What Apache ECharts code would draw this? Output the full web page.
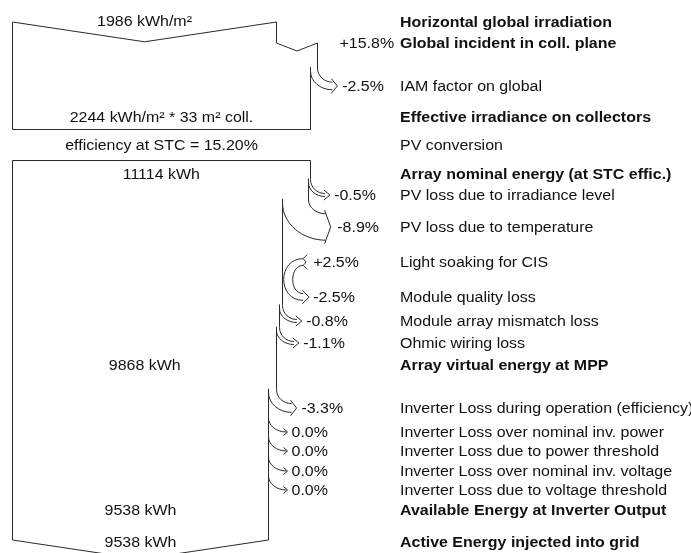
<!DOCTYPE html>
<html>
<head>
<meta charset="utf-8">
<script src="https://cdn.jsdelivr.net/npm/echarts@6/dist/echarts.min.js"></script>
<style>
html,body{margin:0;padding:0;background:#fff}
#main{width:691px;height:553px}
</style>
</head>
<body>
<div id="main"></div>
<script>
// ---- values ----
const horizGlobal = 1986;            // kWh/m2
const effIrradiance = 2244;          // kWh/m2
const collArea = 33;                 // m2
const stcEfficiency = 15.20;         // %
const irrChanges = [15.8, -2.5];     // incident gain, IAM factor
const arrayLosses = [-0.5, -8.9, 2.5, -2.5, -0.8, -1.1];
const inverterLosses = [-3.3, 0.0, 0.0, 0.0, 0.0];
const nominalEnergy = 11114;         // kWh
const virtualEnergy = 9868;
const inverterOutEnergy = 9538;
const gridEnergy = 9538;

const stepLabels = [
    'Horizontal global irradiation',
    'Global incident in coll. plane',
    'IAM factor on global',
    'Effective irradiance on collectors',
    'PV conversion',
    'Array nominal energy (at STC effic.)',
    'PV loss due to irradiance level',
    'PV loss due to temperature',
    'Light soaking for CIS',
    'Module quality loss',
    'Module array mismatch loss',
    'Ohmic wiring loss',
    'Array virtual energy at MPP',
    'Inverter Loss during operation (efficiency)',
    'Inverter Loss over nominal inv. power',
    'Inverter Loss due to power threshold',
    'Inverter Loss over nominal inv. voltage',
    'Inverter Loss due to voltage threshold',
    'Available Energy at Inverter Output',
    'Active Energy injected into grid'
];
const boldSteps = [0, 1, 3, 5, 12, 18, 19];

// ---- layout: vertical position of every row ----
const rowY = [22, 43, 86, 117, 145, 174, 195, 227, 262, 297, 321, 343, 365, 408, 432, 451, 471, 490, 510, 542];
const chainRows = [6, 7, 8, 9, 10, 11, 13, 14, 15, 16, 17];
const box1Bottom = 129, box2Top = 160, box2Bottom = 540;
const labelX = 400;

const LINE = '#2a2a2a';
const TXT = '#111';
const FONT = '"Liberation Sans", Arial, sans-serif';
const TXT_STRETCH = 1.14;   // the printed font runs wide

function fmt(p) {
    return (p > 0 ? '+' : '') + p.toFixed(1) + '%';
}
function crisp(x) { return Math.round(x - 0.5) + 0.5; }
function pline(points) {
    return {type: 'polyline', shape: {points: points}, style: {stroke: LINE, fill: 'none', lineWidth: 1}};
}
function bez(x1, y1, x2, y2, cx1, cy1, cx2, cy2) {
    return {type: 'bezierCurve',
        shape: {x1: x1, y1: y1, x2: x2, y2: y2, cpx1: cx1, cpy1: cy1, cpx2: cx2, cpy2: cy2},
        style: {stroke: LINE, fill: 'none', lineWidth: 1}};
}
// vertical start bending into a horizontal end
function bend(x1, y1, x2, y2) {
    return bez(x1, y1, x2, y2, x1, y1 + 0.55 * (y2 - y1), x2 - 0.55 * (x2 - x1), y2);
}
function txt(text, x, y, align, bold) {
    return {type: 'text', x: x, y: y + 1, scaleX: TXT_STRETCH,
        style: {text: text, x: 0, y: 0, align: align, verticalAlign: 'middle',
        font: (bold ? 'bold ' : '') + '14px ' + FONT, fill: TXT}};
}

function lossGeom(api, before, after, row) {
    const xr = api.coord([before, 0])[0];
    const xn = api.coord([after, 0])[0];
    const w = xr - xn;
    const h = w < 0.5 ? 0 : Math.max(w, 3);
    const yc = api.coord([0, row])[1];
    return {xr: xr, xn: xn, h: h, yc: yc, y0: yc - h / 2 - 14};
}
function lossArrow(g, label) {
    const tip = g.xr + 19 + g.h * 0.12, xe = tip - 5;
    const out = [];
    if (g.h === 0) {
        out.push(bend(g.xr, g.y0, tip - 1, g.yc));
        out.push(pline([[tip - 4, g.yc - 3.5], [tip, g.yc], [tip - 4, g.yc + 3.5]]));
    } else {
        out.push(bend(g.xr, g.y0, xe, g.yc - g.h / 2));
        out.push(bend(g.xn, g.y0 + 3, xe, g.yc + g.h / 2));
        out.push(pline([[xe - 1, g.yc - g.h / 2 - 3.5], [tip, g.yc], [xe - 1, g.yc + g.h / 2 + 3.5]]));
    }
    out.push(txt(label, tip + 4 + g.h * 0.1, g.yc, 'left', false));
    return out;
}

// flow widths are in % of the horizontal global irradiation
const wIncident = 100 * (1 + irrChanges[0] / 100);
const wEffective = wIncident * (1 + irrChanges[1] / 100);

function renderIrradiance(params, api) {
    const ch = [];
    const x0 = crisp(api.coord([0, 0])[0]);
    const xH = crisp(api.coord([100, 0])[0]);
    const xI = crisp(api.coord([wIncident, 0])[0]);
    const xE = crisp(api.coord([wEffective, 0])[0]);
    const yTop = api.coord([0, rowY[0]])[1];
    const yStep = api.coord([0, rowY[1]])[1];
    const yBot = crisp(api.coord([0, box1Bottom])[1]);
    ch.push(pline([[x0, yBot], [x0, yTop], [(x0 + xH) / 2, yTop + 0.15 * (xH - x0) / 2], [xH, yTop],
        [xH, yStep], [(xH + xI) / 2, yStep + 8], [xI, yStep]]));
    ch.push(pline([[x0, yBot], [xE, yBot]]));
    const g = lossGeom(api, wIncident, wEffective, rowY[2]);
    g.xr = xI; g.xn = xE;
    ch.push(pline([[xI, yStep], [xI, g.y0]]));
    ch.push(...lossArrow(g, fmt(irrChanges[1])));
    ch.push(pline([[xE, g.y0 - 1], [xE, yBot]]));
    ch.push(txt(fmt(irrChanges[0]), xI + 22, yStep, 'left', false));
    ch.push(txt(horizGlobal + ' kWh/m²', (x0 + xH) / 2, yTop - 1, 'center', false));
    ch.push(txt(effIrradiance + ' kWh/m² * ' + collArea + ' m² coll.', (x0 + xE) / 2, rowY[3], 'center', false));
    ch.push(txt('efficiency at STC = ' + stcEfficiency.toFixed(2) + '%', (x0 + xE) / 2, rowY[4], 'center', false));
    return {type: 'group', children: ch};
}

function renderEnergy(params, api) {
    const ch = [];
    const chain = arrayLosses.concat(inverterLosses);
    const x0 = crisp(api.coord([0, 0])[0]);
    const top = crisp(api.coord([0, box2Top])[1]);
    const bot = api.coord([0, box2Bottom])[1];
    let w = wEffective;
    let edgeFrom = top;
    ch.push(pline([[x0, bot], [x0, top], [crisp(api.coord([w, 0])[0]), top]]));
    ch.push(txt(nominalEnergy + ' kWh', (x0 + api.coord([w, 0])[0]) / 2, rowY[5], 'center', false));
    for (let i = 0; i < chain.length; i++) {
        const p = chain[i];
        const yc = api.coord([0, rowY[chainRows[i]]])[1];
        if (p > 0 && chain[i + 1] < 0) {
            // gain given straight back: drawn as a loop beside the flow
            const wg = w * (1 + p / 100);
            const wl = wg * (1 + chain[i + 1] / 100);
            const xr = api.coord([w, 0])[0];
            const h = Math.max(api.coord([wg, 0])[0] - xr, 3);
            const yo = api.coord([0, rowY[chainRows[i + 1]]])[1];
            const xa = xr + 21;
            ch.push(bez(xa, yc - h / 2, xa, yo + h / 2, xa - 26, yc - h / 2, xa - 26, yo + h / 2));
            ch.push(bez(xa, yc + h / 2, xa, yo - h / 2, xa - 14, yc + h / 2, xa - 14, yo - h / 2));
            ch.push(pline([[xa + 4, yc - h / 2 - 4], [xa, yc - h / 2], [xa + 3, yc], [xa, yc + h / 2], [xa + 4, yc + h / 2 + 4]]));
            ch.push(pline([[xa - 1, yo - h / 2 - 3.5], [xa + 6, yo], [xa - 1, yo + h / 2 + 3.5]]));
            ch.push(txt(fmt(p), xa + 10, yc, 'left', false));
            ch.push(txt(fmt(chain[i + 1]), xa + 10, yo, 'left', false));
            w = wl;
            i++;
            continue;
        }
        const after = w * (1 + p / 100);
        const g = lossGeom(api, w, after, rowY[chainRows[i]]);
        g.xr = crisp(g.xr);
        g.xn = crisp(g.xn);
        ch.push(pline([[g.xr, edgeFrom], [g.xr, g.y0]]));
        ch.push(...lossArrow(g, fmt(p)));
        edgeFrom = g.y0 - 1;
        w = after;
        if (i === 5) {
            ch.push(txt(virtualEnergy + ' kWh', (x0 + api.coord([w, 0])[0]) / 2, rowY[12], 'center', false));
        }
    }
    const xEnd = crisp(api.coord([w, 0])[0]);
    ch.push(pline([[xEnd, edgeFrom], [xEnd, bot], [(x0 + xEnd) / 2, bot + 0.15 * (xEnd - x0) / 2], [x0, bot]]));
    ch.push(txt(inverterOutEnergy + ' kWh', (x0 + xEnd) / 2, rowY[18], 'center', false));
    ch.push(txt(gridEnergy + ' kWh', (x0 + xEnd) / 2, rowY[19], 'center', false));
    return {type: 'group', children: ch};
}

function renderLabel(params, api) {
    const i = params.dataIndex;
    const y = api.coord([0, api.value(1)])[1];
    return txt(stepLabels[i], labelX, y, 'left', boldSteps.indexOf(i) >= 0);
}

let chart = echarts.init(document.getElementById('main'), null, {renderer: 'canvas'});
chart.setOption({
    animation: false,
    backgroundColor: '#fff',
    grid: {left: 12, top: 0, width: 264, height: 553},
    xAxis: {type: 'value', min: 0, max: 100, show: false},
    yAxis: {type: 'value', min: 0, max: 553, inverse: true, show: false},
    series: [
        {type: 'custom', name: 'irradiance', renderItem: renderIrradiance, data: [[0, 0]], silent: true},
        {type: 'custom', name: 'energy', renderItem: renderEnergy, data: [[0, 0]], silent: true},
        {type: 'custom', name: 'labels', renderItem: renderLabel,
            data: stepLabels.map(function (t, i) { return [0, rowY[i]]; }), silent: true}
    ]
});
</script>
</body>
</html>
